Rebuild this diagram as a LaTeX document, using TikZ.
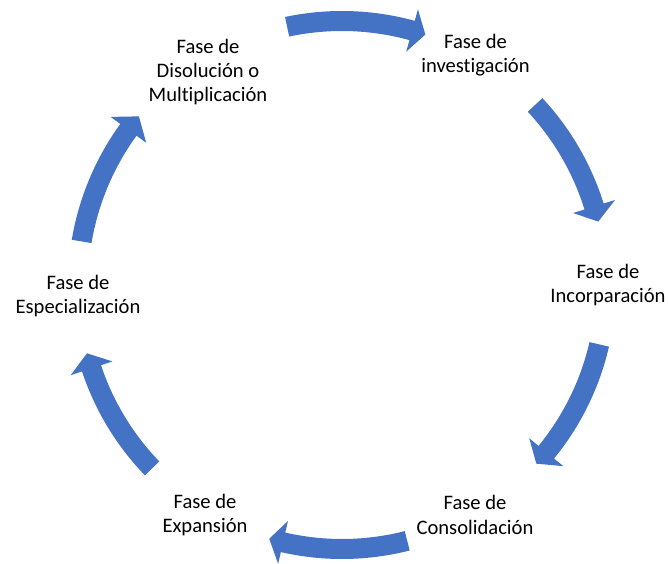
\documentclass[tikz,border=0pt]{standalone}
\usepackage{fontspec}
\setmainfont{Carlito}[Ligatures={NoCommon}]
\definecolor{arrowblue}{HTML}{4472C4}
\tikzset{
  phase/.style={align=center, font=\fontsize{20.6}{24.4}\selectfont, text=black, inner sep=0pt},
  cyc/.style={fill=arrowblue, draw=none}
}
% tail angle, head base angle, tip angle
\newcommand\cyclearrow[3]{%
  \fill[cyc] (#1:274) arc[start angle=#1, end angle=#2, radius=274]
    -- (#2:286) -- (#3:264) -- (#2:242) -- (#2:254)
    arc[start angle=#2, end angle=#1, radius=254] -- cycle;}
\begin{document}
\begin{tikzpicture}[x=1pt,y=1pt]
\useasboundingbox (0,0) rectangle (669,563);
\begin{scope}[shift={(342,278)}]
  \cyclearrow{102}{74.6}{71.6}
  \cyclearrow{43}{17.3}{13.9}
  \cyclearrow{-13}{-39.3}{-42.6}
  \cyclearrow{-75.7}{-102.9}{-106}
  \cyclearrow{-136}{-161.6}{-165}
  \cyclearrow{170.5}{144}{140.3}
\end{scope}
\node[phase] (inv) at (475.5,508) {Fase de\\investigación};
\node[phase] (inc) at (608,278) {Fase de\\Incorparación};
\node[phase] (con) at (475,48) {Fase de\\Consolidación};
\node[phase] (exp) at (205,48) {Fase de\\Expansión};
\node[phase] (esp) at (78,267) {Fase de\\Especialización};
\node[phase] (dis) at (208,491) {Fase de\\Disolución o\\Multiplicación};
\end{tikzpicture}
\end{document}
